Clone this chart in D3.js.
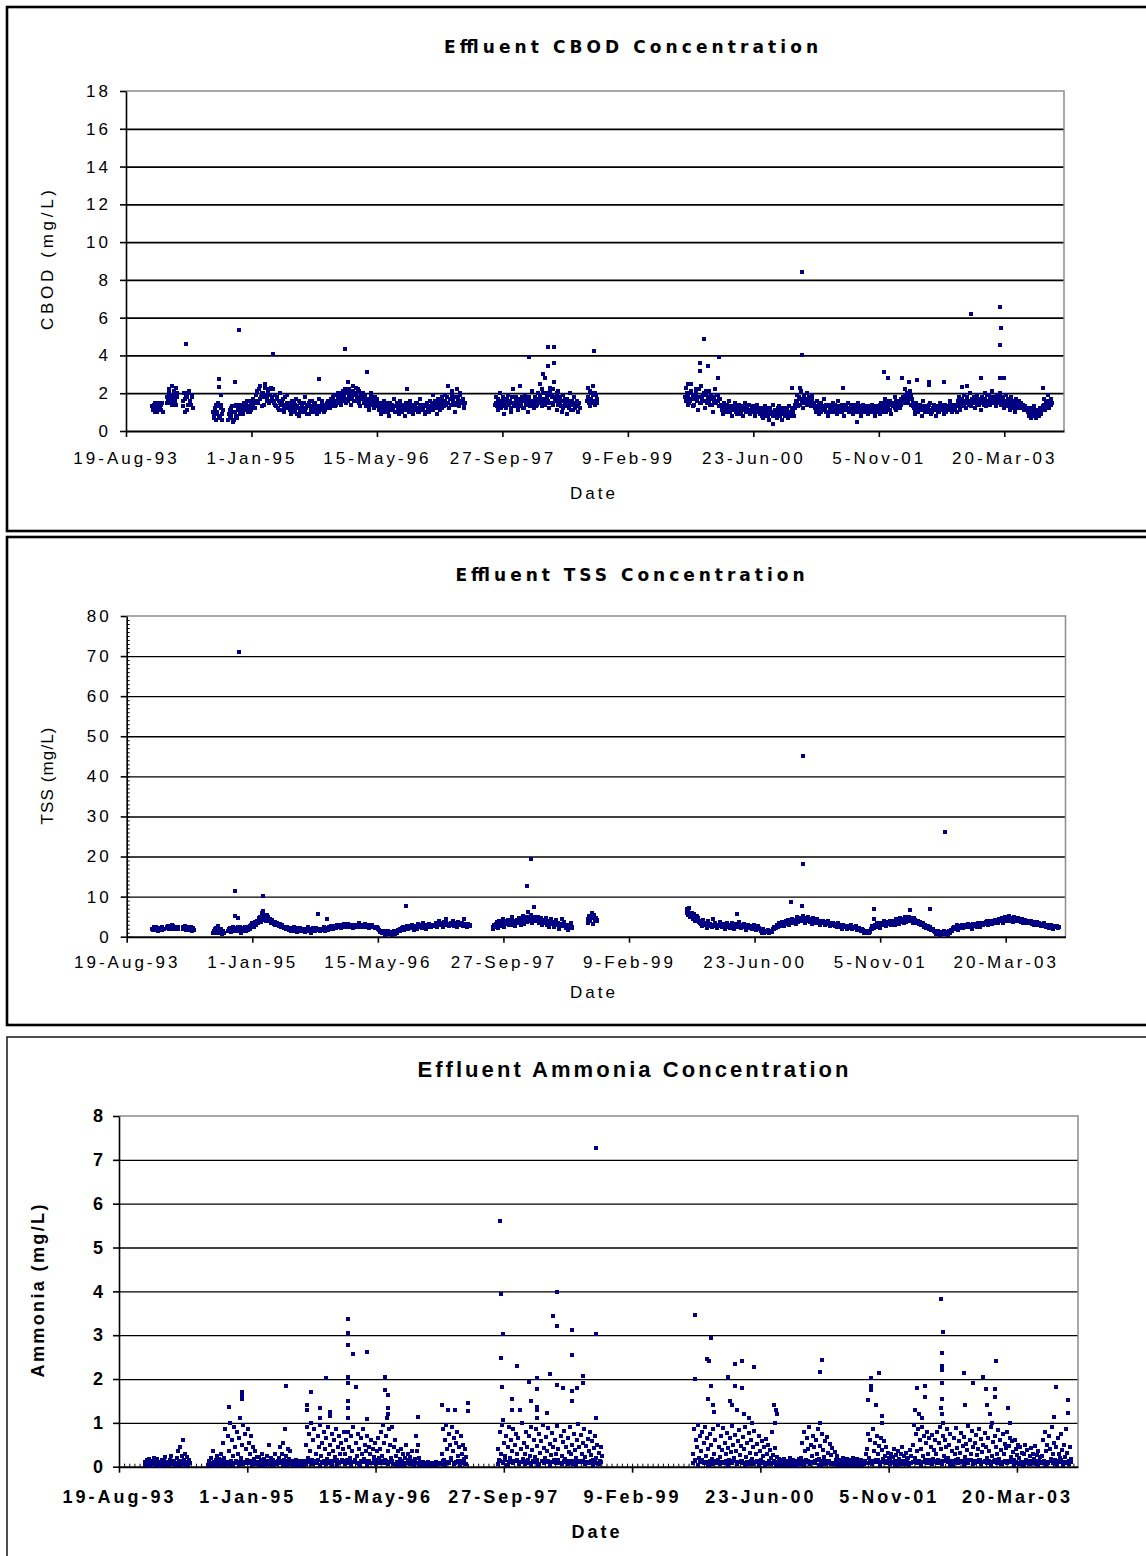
<!DOCTYPE html>
<html>
<head>
<meta charset="utf-8">
<script src="https://cdn.jsdelivr.net/npm/d3@7"></script>
<style>
  body { margin: 0; background: #fff; }
</style>
</head>
<body>
<svg id="chart" width="1146" height="1556"></svg>
<script>
// ---- data ----
// each run is a block of regular samples, first date in *Starts, then one value every STEP days.
// the "B" runs are the readings taken in between (offset by two days).

const cbodStep = 5;
const cbodStarts = ["1993-12-01","1994-01-29","1994-04-03","1994-08-01","1994-10-01","1997-08-29","1998-08-31","1999-09-25"];
const cbodRuns = [
  [1.3,1.1,1.5,1.2,1.0,1.4,1.3,1.1,1.5],
  [1.8,1.6,2.2,1.5,2.4,1.7,1.9,1.4,2.0],
  [1.6,2.0,1.0,1.8,1.4,2.1,1.5,1.9,1.2],
  [1.0,0.7,1.4,0.9,1.5,0.8,1.2,0.6,1.1],
  [0.6,1.1,0.8,1.3,0.5,1.0,1.4,0.7,1.2,0.9,
   1.0,1.4,0.9,1.3,1.1,1.6,1.2,1.0,1.5,1.3,1.7,1.2,
   1.6,2.1,1.5,2.4,1.8,2.0,1.4,2.5,1.9,1.7,2.2,1.6,2.3,1.8,1.5,
   1.9,1.3,1.7,1.1,2.0,1.4,1.6,1.0,1.8,1.2,1.5,1.3,
   1.4,0.9,1.6,1.2,1.0,1.7,1.3,0.8,1.5,1.1,1.4,1.0,1.8,1.2,0.9,1.5,1.3,1.1,1.6,1.0,1.4,1.2,0.9,1.7,1.3,1.1,1.5,1.0,1.4,1.2,1.6,1.3,
   1.2,1.7,1.4,1.9,1.3,1.6,2.0,1.5,1.8,1.4,2.1,1.7,
   2.2,1.5,2.6,1.8,2.0,1.4,2.4,1.9,1.6,2.3,1.7,2.1,1.3,2.0,1.8,1.5,
   1.9,1.3,1.7,1.1,1.6,2.0,1.4,1.2,1.8,1.5,1.3,
   1.1,1.5,0.9,1.3,1.6,1.0,1.4,1.2,0.8,1.5,1.3,1.1,1.7,1.0,1.4,1.2,0.9,1.6,1.3,1.1,1.4,0.8,1.5,1.2,1.0,1.6,1.3,0.9,1.4,1.1,1.5,1.2,1.0,1.7,1.3,1.1,1.4,0.9,1.5,1.2,
   1.0,1.6,1.3,1.9,1.2,1.5,0.9,1.7,1.4,1.1,1.8,1.4,
   1.3,1.9,1.5,2.4,1.2,1.7,2.1,1.4,1.8,1.0,2.2,1.6,1.3,2.0,1.5,1.7,1.2],
  [1.4,1.8,1.1,1.6,2.0,1.3,1.5,0.9,1.7,1.2,1.9,1.4,1.6,1.0,2.2,1.5,1.3,1.8,1.1,1.6,2.4,1.4,1.7,1.2,1.9,1.5,1.0,1.8,1.3,2.1,1.6,1.2,1.7,1.4,2.0,
   1.7,2.5,1.3,2.0,1.6,2.8,1.5,1.9,1.2,2.3,1.8,1.4,2.6,1.7,1.1,2.1,1.6,
   1.5,1.0,1.9,1.3,1.7,0.9,1.6,1.2,2.0,1.4,1.1,1.8,1.3,1.6,1.0,1.5],
  [1.6,2.3,1.3,2.0,1.5,2.4,1.4,1.9,1.7],
  [1.8,2.3,1.4,2.0,1.6,2.5,1.3,1.9,1.7,2.2,1.1,1.8,1.5,2.4,1.6,2.0,1.2,1.9,1.7,2.1,1.4,1.8,1.0,1.6,2.2,1.5,1.9,1.3,1.7,
   1.3,0.9,1.5,1.1,1.4,1.0,1.6,1.2,0.8,1.3,1.1,1.5,0.9,1.2,1.4,1.0,1.3,0.8,1.2,1.5,1.0,1.1,1.4,0.9,1.3,1.0,1.2,0.8,1.4,1.1,1.0,
   0.9,1.2,0.7,1.1,1.3,0.8,1.0,0.6,1.2,0.9,1.4,0.8,1.1,0.7,1.0,1.3,0.9,0.6,1.2,1.0,0.8,1.1,0.7,1.3,0.9,1.0,1.2,0.8,
   1.4,1.9,1.3,1.7,2.1,1.5,1.2,1.8,1.6,2.0,1.4,1.7,1.3,1.9,1.5,
   1.4,1.0,1.6,1.2,0.9,1.5,1.3,1.1,1.7,1.0,1.3,0.8,1.4,1.2,1.0,1.5,1.1,1.3,0.9,1.6,1.2,1.0,1.4,1.1,0.8,1.3,1.2,1.5,1.0,1.1,1.4,0.9,1.2,1.3,1.0,1.5,1.1,0.8,1.2,1.4,1.0,1.1,1.3,0.9,1.2,1.0,1.4,1.1,0.8,1.3,1.0,
   1.2,0.9,1.5,1.1,1.3,1.7,1.0,1.4,1.2,1.6,0.9,1.5,1.3,1.8,1.1,1.4,1.6,1.2,1.7,1.5,
   1.8,2.2,1.5,2.0,1.6,2.1,1.4,1.7,
   1.3,0.9,1.5,1.1,1.0,1.4,1.2,0.8,1.6,1.1,1.3,1.0,1.2,1.5,0.9,1.1,1.4,1.2,0.8,1.3,1.0,1.5,1.1,1.2,0.9,1.4,1.0,1.3,1.1,1.6,1.2,1.0,1.4,1.1,1.3,
   1.4,1.8,1.1,1.6,1.3,1.9,1.5,1.2,1.7,1.4,2.0,1.3,1.6,1.8,1.2,1.5,1.9,1.4,1.7,1.1,1.8,1.5,2.0,1.3,1.6,1.9,1.4,1.7,2.1,1.5,1.8,1.3,1.9,1.6,2.0,1.4,
   1.7,1.2,1.5,1.9,1.3,1.6,1.1,1.8,1.4,1.5,1.0,1.7,1.3,1.6,1.2,1.5,1.4,1.1,1.3,1.2,
   1.1,0.8,1.2,0.7,1.0,1.3,0.9,0.7,1.1,0.8,1.2,0.9,
   1.3,1.7,1.1,1.5,1.9,1.2,1.6,1.4]
];
const cbodStartsB = ["1993-12-03","1994-01-31","1994-04-05","1994-08-03","1994-10-03","1997-08-31","1998-09-02","1999-09-27"];
const cbodRunsB = [
  [1.2,1.4,1.0,1.3,1.5,1.1,1.2,1.4,1.0],
  [1.5,2.0,1.7,1.9,1.4,2.1,1.6,2.3,1.8],
  [1.3,1.7,1.9,1.1,2.0,1.6,1.4,1.8],
  [0.8,1.2,0.6,1.0,1.3,0.7,1.4,0.9],
  [0.9,0.7,1.2,1.0,0.6,1.3,0.8,1.1,1.4,1.0,
   1.2,0.9,1.5,1.1,1.4,1.0,1.3,1.6,1.1,1.4,1.5,1.6,
   1.9,1.5,2.2,1.7,1.3,2.0,1.8,2.3,1.6,2.1,1.5,1.9,1.7,2.2,1.6,
   1.4,1.8,1.2,1.6,1.5,1.1,1.7,1.3,1.4,1.9,1.2,1.5,
   1.1,1.3,1.0,1.5,1.4,0.9,1.2,1.6,1.0,1.3,1.2,1.5,1.1,1.4,1.3,0.9,1.6,1.2,1.0,1.4,1.5,1.1,1.3,1.0,1.2,1.6,1.4,1.2,1.1,1.5,1.3,1.4,
   1.5,1.3,1.8,1.6,1.4,1.9,1.7,1.5,2.0,1.6,1.8,1.9,
   1.7,2.0,1.6,2.2,1.9,1.7,2.1,1.6,2.0,1.8,2.2,1.5,1.9,1.7,2.0,1.6,
   1.4,1.7,1.5,1.3,1.8,1.4,1.6,1.5,1.3,1.7,1.4,
   1.3,1.0,1.2,1.4,1.1,1.5,1.3,1.0,1.2,1.1,1.4,1.2,1.0,1.3,1.5,1.1,1.2,1.4,1.0,1.3,1.2,1.5,1.1,1.3,1.4,1.0,1.2,1.1,1.3,1.5,1.2,1.0,1.4,1.1,1.3,1.2,1.0,1.4,1.3,1.1,
   1.3,1.2,1.5,1.1,1.6,1.4,1.2,1.5,1.3,1.6,1.2,1.5,
   1.6,1.4,1.8,1.5,1.7,1.4,1.9,1.6,1.5,1.8,1.4,1.7,1.9,1.5,1.6,1.4,1.5],
  [1.5,1.3,1.7,1.4,1.2,1.6,1.8,1.3,1.5,1.7,1.4,1.6,1.2,1.8,1.5,1.3,1.6,1.4,1.7,1.3,1.5,1.8,1.2,1.6,1.4,1.7,1.5,1.3,1.6,1.5,1.4,1.8,1.3,1.6,1.5,
   1.9,1.5,2.2,1.7,1.4,2.0,1.8,1.6,2.1,1.5,1.9,2.2,1.6,1.8,2.0,1.4,1.8,
   1.3,1.6,1.2,1.5,1.4,1.7,1.3,1.5,1.1,1.6,1.4,1.2,1.5,1.3,1.4,1.2],
  [1.8,1.5,2.1,1.7,1.9,1.6,2.0,1.5],
  [1.6,2.0,1.8,1.5,2.1,1.7,1.9,1.4,2.0,1.6,1.8,2.2,1.5,1.7,1.9,1.6,2.1,1.5,1.8,1.6,1.9,1.4,1.7,1.8,1.5,1.9,1.6,1.7,1.4,
   1.1,1.3,1.0,1.2,1.4,1.1,1.0,1.3,1.2,1.1,1.4,1.0,1.2,1.3,1.1,0.9,1.2,1.1,1.3,1.0,1.2,1.4,1.1,1.0,1.2,1.1,1.3,1.0,1.1,1.2,1.1,
   1.0,0.8,1.1,0.9,1.0,1.2,0.8,1.1,0.9,1.0,0.8,1.1,1.0,0.9,1.2,0.8,1.0,1.1,0.9,0.8,1.0,1.2,0.9,1.0,0.8,1.1,1.0,1.2,
   1.6,1.5,1.8,1.4,1.7,1.6,1.9,1.5,1.7,1.4,1.8,1.6,1.5,1.7,1.4,
   1.2,1.3,1.1,1.4,1.2,1.0,1.3,1.2,1.1,1.4,1.3,1.0,1.2,1.1,1.3,1.2,1.4,1.0,1.1,1.3,1.2,1.1,1.0,1.3,1.2,1.4,1.1,1.0,1.2,1.3,1.1,1.2,1.0,1.4,1.2,1.1,1.3,1.0,1.2,1.1,1.3,1.2,1.0,1.1,1.3,1.2,1.1,1.0,1.2,1.1,1.2,
   1.1,1.4,1.2,1.3,1.0,1.5,1.2,1.3,1.6,1.1,1.4,1.3,1.5,1.2,1.6,1.4,1.3,1.5,1.4,1.6,
   1.6,1.9,1.7,1.5,1.8,1.7,1.9,1.5,
   1.2,1.1,1.3,1.0,1.2,1.4,1.1,1.3,1.2,1.0,1.3,1.2,1.4,1.1,1.0,1.2,1.3,1.1,1.2,1.0,1.3,1.2,1.4,1.1,1.2,1.0,1.3,1.2,1.1,1.4,1.2,1.1,1.3,1.2,1.0,
   1.6,1.5,1.3,1.7,1.5,1.4,1.6,1.8,1.5,1.6,1.4,1.7,1.5,1.6,1.8,1.4,1.7,1.6,1.5,1.8,1.6,1.4,1.7,1.9,1.5,1.6,1.7,1.5,1.8,1.6,1.7,1.9,1.5,1.7,1.6,1.8,
   1.5,1.4,1.6,1.3,1.7,1.5,1.4,1.3,1.6,1.2,1.5,1.4,1.2,1.5,1.3,1.4,1.2,1.3,1.1,1.2,
   1.0,0.9,1.1,1.0,0.8,1.1,1.0,0.9,1.0,1.1,0.9,1.1,
   1.2,1.4,1.6,1.3,1.5,1.4,1.7,1.5]
];
const cbodOutliers = [
  ["1994-04-14",4.6],["1994-08-25",2.75],["1994-08-25",2.35],["1994-08-31",1.9],["1994-10-27",2.6],["1994-11-14",5.35],
  ["1995-03-29",4.1],["1995-09-27",2.75],["1996-01-09",4.35],["1996-04-04",3.1],["1996-09-11",2.2],
  ["1998-01-11",3.9],["1998-03-07",3.03],["1998-03-28",4.45],["1998-03-28",3.45],["1998-04-21",4.45],["1998-04-21",3.58],["1998-09-29",4.25],
  ["1999-10-07",2.5],["1999-11-24",3.58],["1999-11-24",3.2],["1999-12-10",4.87],["1999-12-27",3.45],["2000-02-05",2.8],["2000-02-09",3.9],
  ["2000-09-11",0.37],["2000-11-23",2.3],["2000-12-27",2.3],["2001-01-02",8.43],["2001-01-02",4.05],["2001-06-17",2.3],["2001-08-10",0.46],
  ["2001-11-24",3.14],["2001-12-10",2.82],["2002-02-05",2.82],["2002-03-07",2.6],["2002-04-08",2.7],["2002-05-25",2.57],["2002-05-25",2.45],
  ["2002-07-21",2.6],["2002-10-02",2.35],["2002-10-22",2.4],["2002-11-07",6.17],["2002-12-18",2.82],["2003-03-01",6.58],["2003-03-01",4.55],
  ["2003-03-01",2.82],["2003-03-08",5.47],["2003-03-20",2.82],["2003-08-23",2.3]
];

const tssStep = 5;
const tssStarts = ["1993-11-27","1994-01-25","1994-03-31","1994-07-29","1994-09-28","1997-08-16","1998-08-29","1999-09-26"];
const tssRuns = [
  [2.0,1.6,2.3,1.8,2.1,1.5,2.2,1.9,1.7,2.0],
  [2.2,2.6,1.9,2.4,2.8,2.0,2.5,2.2,1.8,2.4],
  [2.3,1.9,2.6,2.0,1.6,2.4,1.8,1.5,2.1],
  [0.8,1.5,2.2,1.2,2.6,1.0,1.8,0.6,1.3],
  [1.5,2.2,1.2,1.9,2.5,1.6,2.0,1.3,2.3,1.8,1.0,2.1,1.7,2.4,1.5,2.0,1.9,2.6,
   2.8,3.3,2.5,3.6,3.0,3.9,
   4.2,5.0,3.6,5.8,4.5,4.9,3.8,5.4,4.3,
   4.4,3.5,4.0,3.2,3.7,2.9,3.4,2.6,3.1,2.4,2.8,2.1,2.5,1.9,2.3,
   1.6,2.1,1.3,1.8,2.4,1.5,1.9,1.1,1.7,2.2,1.4,2.0,1.6,1.2,1.9,2.3,1.5,1.8,1.0,2.1,1.7,1.4,2.2,1.6,1.9,1.3,2.0,1.8,2.4,1.5,2.1,1.7,2.3,1.9,2.6,2.0,2.4,
   2.7,2.2,3.0,2.5,2.9,2.1,2.8,3.2,2.4,2.6,3.1,2.3,2.7,2.9,2.2,3.0,2.5,2.8,2.4,3.3,2.6,2.3,2.9,2.7,3.1,2.4,2.8,2.2,2.6,3.0,2.3,2.5,2.1,2.4,1.9,
   1.6,1.1,1.4,0.8,1.3,0.5,1.0,1.5,0.7,1.2,0.4,0.9,1.4,0.6,1.1,1.7,1.3,1.8,
   1.9,2.4,1.6,2.2,2.7,1.8,2.5,2.1,2.9,2.3,1.7,2.6,2.0,3.1,2.4,2.8,2.2,3.4,2.5,2.0,2.9,2.6,3.2,2.3,2.7,3.0,
   2.7,3.4,2.5,3.1,3.8,2.8,3.3,2.4,3.6,4.3,2.9,3.2,2.6,3.5,3.0,4.0,2.7,3.3,2.5,3.7,3.1,2.8,3.4,2.6,4.4,3.0,2.5,3.2,2.7],
  [1.8,3.0,2.4,3.6,2.2,4.0,2.7,3.3,4.5,2.5,3.8,3.1,4.2,2.9,3.5,4.8,3.0,3.9,2.6,4.1,3.4,4.6,2.8,3.7,5.2,3.2,4.4,3.6,6.2,4.0,5.5,3.4,
   4.8,7.3,4.3,3.8,5.0,3.5,4.6,2.9,4.0,3.3,4.7,3.0,3.8,2.5,4.3,3.1,3.6,2.4,4.1,2.8,3.5,1.9,3.2,4.5,2.6,3.7,2.2,3.0,1.6,2.8,3.4,2.1],
  [3.5,5.2,4.1,6.0,3.2,5.5,4.4,3.8],
  [6.8,5.5,7.2,4.9,6.0,4.4,5.6,3.9,5.1,4.6,3.7,
   3.5,2.6,4.1,2.9,3.3,2.2,3.8,2.7,3.1,2.4,4.4,2.9,3.4,2.1,3.0,2.6,3.7,2.3,3.2,2.8,1.9,3.5,2.5,3.0,2.2,3.3,2.7,1.8,3.1,2.4,2.9,3.6,2.1,2.8,2.5,3.2,1.7,2.6,3.0,2.2,2.7,1.9,2.4,2.9,1.6,2.3,2.6,2.0,
   1.5,1.0,1.8,0.8,1.3,1.1,1.6,0.9,1.4,1.2,
   1.8,2.5,2.1,2.9,2.4,3.3,2.7,3.6,3.0,2.6,3.9,3.2,4.2,2.9,3.7,4.5,3.4,4.0,3.1,4.8,3.6,4.3,
   4.6,3.8,5.2,3.4,4.4,3.9,5.0,3.6,4.2,3.1,4.7,3.8,3.3,4.3,3.5,2.9,4.0,3.4,3.7,2.8,3.5,3.1,3.9,2.7,3.3,3.0,
   3.2,2.6,2.9,2.3,3.4,2.5,2.8,2.0,3.0,2.4,2.7,1.9,2.6,2.2,2.9,1.8,2.4,2.1,2.6,1.6,2.2,1.9,1.5,2.0,
   1.2,0.8,1.5,0.9,1.3,1.1,
   1.9,2.6,2.2,3.0,2.4,3.3,2.7,2.1,3.5,2.9,3.8,3.1,2.6,3.6,3.2,4.0,2.8,3.4,3.9,3.0,4.3,3.5,3.1,4.6,3.7,4.1,3.3,4.8,3.6,4.2,5.0,3.8,4.4,3.5,4.7,
   4.2,3.5,4.0,3.1,3.7,2.8,3.4,2.5,3.0,2.2,2.7,1.9,2.4,1.6,2.0,1.3,
   1.1,0.6,1.4,0.8,0.4,1.2,0.9,1.5,0.7,1.0,0.5,1.3,0.9,1.6,
   1.8,2.4,2.0,2.8,1.7,2.5,2.2,3.0,2.1,2.6,2.9,2.3,3.1,2.4,2.7,2.0,3.2,2.6,2.9,2.3,3.4,2.8,2.5,3.1,
   2.9,3.5,3.1,3.8,2.8,3.6,4.0,3.2,3.9,3.4,4.2,3.7,3.3,4.4,3.8,4.6,3.5,4.1,4.8,3.9,4.3,5.1,4.0,4.5,3.7,4.9,4.2,3.8,4.6,4.0,3.6,4.3,3.5,4.1,3.3,3.9,3.6,
   3.4,3.8,3.1,3.5,2.9,3.3,3.6,2.8,3.2,2.6,3.0,2.7,3.3,2.4,2.9,2.6,2.2,2.8,2.5,2.0,2.7,2.3,2.6,2.1]
];
const tssStartsB = ["1993-11-29","1994-01-27","1994-04-02","1994-07-31","1994-09-30","1997-08-18","1998-08-31","1999-09-28"];
const tssRunsB = [
  [1.8,2.1,1.7,2.4,1.9,2.2,1.6,2.0,2.3,1.8],
  [2.4,2.1,2.7,2.3,2.0,2.6,2.3,2.1,2.5,2.0],
  [2.0,2.4,1.7,2.2,1.9,2.1,2.5,1.9,1.7],
  [1.2,1.9,1.0,1.6,2.0,1.4,1.1,1.5,0.9],
  [1.9,1.6,2.1,1.8,1.4,2.2,1.7,2.0,1.6,2.3,1.9,1.5,2.2,1.8,2.1,1.7,2.3,2.0,
   2.5,3.0,2.9,3.2,3.5,3.4,
   4.6,4.0,5.2,4.4,5.5,4.1,4.7,5.0,4.0,
   3.9,4.1,3.4,3.6,3.0,3.3,2.8,3.0,2.7,2.6,2.4,2.3,2.2,2.1,2.0,
   1.9,1.7,2.0,1.5,1.8,1.6,2.1,1.8,1.5,1.9,1.7,1.6,2.0,1.8,1.5,1.7,1.9,1.6,1.8,1.5,2.0,1.7,1.8,1.6,1.9,1.7,1.8,2.0,1.7,2.1,1.8,2.0,2.2,1.9,2.1,2.3,2.2,
   2.5,2.8,2.6,2.4,2.7,2.9,2.5,2.7,2.8,2.5,2.6,2.9,2.5,2.6,2.8,2.7,2.4,2.6,2.9,2.7,2.5,2.8,2.6,2.5,2.7,2.9,2.6,2.5,2.8,2.6,2.4,2.3,2.5,2.1,2.2,
   1.4,1.2,1.0,1.3,0.9,1.1,0.8,1.2,1.0,0.8,1.1,0.7,1.0,1.2,0.9,1.3,1.5,1.6,
   2.1,2.0,2.3,2.5,2.1,2.3,2.4,2.6,2.2,2.5,2.4,2.3,2.7,2.5,2.6,2.4,2.8,2.6,2.4,2.7,2.8,2.5,2.9,2.7,2.8,2.9,
   3.0,2.9,3.2,2.8,3.1,3.3,3.0,2.9,3.2,3.4,3.0,3.1,2.9,3.3,3.2,3.1,2.9,3.0,3.2,3.1,2.9,3.0,3.3,2.9,3.1,3.2,2.8,3.0,2.9],
  [2.5,2.7,3.1,3.0,3.3,2.9,3.5,3.2,3.4,3.7,3.3,3.6,3.4,3.8,3.5,3.7,4.0,3.6,3.8,3.5,3.9,4.1,3.7,4.2,3.9,4.5,4.0,4.8,4.3,5.0,4.4,4.6,
   4.2,4.9,4.0,4.4,4.1,4.3,3.9,4.2,3.8,4.0,3.6,3.9,3.5,3.8,3.4,3.6,3.3,3.5,3.1,3.4,3.0,3.2,2.9,3.1,2.7,3.0,2.6,2.8,2.4,2.6,2.5,2.3],
  [4.5,4.0,4.8,4.6,5.0,4.2,4.7,4.1],
  [6.0,6.4,5.2,5.8,5.0,5.3,4.8,4.6,4.3,4.1,3.9,
   3.2,3.4,3.0,3.1,2.8,3.0,2.9,3.2,2.7,3.0,2.8,3.1,2.6,2.9,2.7,3.0,2.8,2.5,2.9,2.7,2.6,2.8,3.0,2.6,2.7,2.5,2.9,2.6,2.8,2.5,2.7,2.4,2.6,2.8,2.5,2.7,2.4,2.6,2.3,2.5,2.4,2.2,2.5,2.3,2.1,2.4,2.2,2.0,
   1.7,1.3,1.5,1.2,1.1,1.4,1.0,1.3,1.2,1.5,
   2.0,2.2,2.4,2.6,2.8,2.9,3.0,3.2,3.3,3.4,3.5,3.6,3.7,3.6,3.9,4.0,3.8,4.1,4.0,4.2,4.1,4.3,
   4.2,4.4,4.1,4.6,4.3,4.5,4.2,4.4,4.0,4.3,3.9,4.2,3.8,4.0,3.7,3.9,3.6,3.8,3.5,3.7,3.4,3.6,3.3,3.5,3.2,3.3,
   3.0,2.9,3.1,2.8,2.9,2.7,2.8,2.6,2.7,2.5,2.6,2.4,2.5,2.3,2.4,2.2,2.3,2.1,2.2,2.0,2.1,1.9,1.8,1.7,
   1.0,1.3,1.1,1.2,1.0,1.4,
   2.0,2.3,2.4,2.6,2.7,2.8,3.0,2.9,3.1,3.2,3.3,3.4,3.3,3.5,3.6,3.7,3.5,3.8,3.7,3.9,4.0,3.8,4.1,4.0,4.2,4.3,4.1,4.4,4.2,4.5,4.3,4.6,4.2,4.4,4.1,
   3.9,3.8,3.6,3.5,3.3,3.2,3.0,2.9,2.7,2.6,2.4,2.2,2.0,1.8,1.6,1.4,
   1.0,1.2,0.8,1.0,0.7,0.9,1.1,0.8,1.2,0.9,1.1,0.8,1.3,1.4,
   2.1,2.2,2.4,2.3,2.5,2.4,2.6,2.5,2.7,2.6,2.8,2.7,2.9,2.8,2.7,2.9,3.0,2.8,3.1,2.9,3.2,3.0,3.1,3.3,
   3.3,3.4,3.6,3.5,3.7,3.8,3.6,3.9,3.8,4.0,4.1,3.9,4.2,4.1,4.3,4.2,4.4,4.3,4.5,4.4,4.6,4.5,4.4,4.6,4.3,4.5,4.2,4.4,4.1,4.3,4.0,4.2,3.9,4.1,3.8,3.9,3.7,
   3.6,3.5,3.4,3.6,3.3,3.4,3.2,3.3,3.1,3.2,3.0,3.1,2.9,3.0,2.8,2.9,2.7,2.8,2.6,2.7,2.5,2.6,2.4,2.5]
];
const tssOutliers = [
  ["1994-10-24",11.5],["1994-10-24",5.2],["1994-11-06",4.7],["1994-11-08",71.1],["1995-02-11",10.1],["1995-02-11",6.5],
  ["1995-09-21",5.6],["1995-10-24",4.4],["1996-09-06",7.65],["1997-12-28",12.7],["1998-01-13",19.4],["2000-04-16",5.6],
  ["2000-11-17",8.6],["2000-12-27",7.65],["2001-01-02",45.1],["2001-01-02",18.1],["2001-10-11",6.9],["2001-10-11",4.4],
  ["2002-03-03",6.7],["2002-05-21",6.9],["2002-07-23",26.0]
];

const ammoniaStep = 4;
const ammoniaStarts = ["1993-11-28","1994-08-01","1995-02-12","1997-09-04","1999-10-04"];
const ammoniaRuns = [
  [0.10,0.05,0.15,0.08,0.18,0.12,0.04,0.14,0.09,0.20,0.06,0.13,0.17,0.05,0.11,0.02,0.08,0.16,0.04,0.12,0.22,0.07,0.10,0.03,0.15,0.25,0.06,0.12,0.09,0.05,
   0.08,0.20,0.35,0.12,0.45,0.05,0.25,0.60,0.15,0.30,0.10,0.22,0.04,0.15,0.08],
  [0.05,0.12,0.03,0.20,0.08,0.35,0.10,0.02,0.15,0.25,0.06,0.18,0.04,0.30,
   0.15,0.55,0.20,0.85,0.10,0.70,0.35,1.00,0.05,0.60,0.25,0.90,0.45,0.12,0.80,0.30,0.65,1.10,0.20,0.50,0.95,0.08,0.75,0.40,0.15,0.85,0.55,0.28,0.70,0.10,0.45,0.18,0.35,0.06,0.22],
  [0.10,0.22,0.05,0.15,0.28,0.08,0.18,0.03,0.12,0.25,0.06,0.50,0.14,0.20,0.04,0.16,0.09,0.30,0.07,0.13,
   0.20,0.45,0.10,0.30,0.55,0.15,0.86,0.25,0.05,0.40,0.18,0.35,0.08,
   0.06,0.12,0.03,0.10,0.15,0.05,0.09,0.02,0.13,0.07,0.11,0.04,0.14,0.08,
   0.50,0.90,0.20,0.75,0.35,1.00,0.15,0.60,0.85,0.30,0.10,0.70,0.45,0.95,0.25,0.55,0.08,0.80,0.40,0.65,0.18,0.90,0.30,0.50,0.12,0.75,0.35,0.60,0.22,0.85,0.05,0.45,0.70,0.28,0.55,0.15,0.40,0.80,
   0.30,0.60,0.15,0.80,0.45,0.20,0.70,0.35,0.90,0.10,0.55,0.25,0.75,0.40,0.05,0.65,0.30,0.85,0.18,0.50,0.35,0.70,0.12,0.45,0.28,0.60,0.08,0.40,0.22,0.55,0.15,0.35,0.65,0.20,
   0.40,0.80,0.25,0.95,0.55,0.15,0.70,1.10,0.35,0.85,0.50,0.20,0.90,0.45,0.60,
   0.25,0.10,0.35,0.05,0.18,0.40,0.12,0.28,0.03,0.20,0.50,0.08,0.30,0.15,0.22,0.06,0.35,0.12,0.04,0.18,
   0.70,0.35,0.50,0.20,0.10,
   0.08,0.05,0.10,0.06,0.09,0.04,0.07,0.10,0.05,0.08,0.06,0.09,0.04,0.07,0.10,0.05,0.08,0.06,0.09,0.07,
   0.30,0.85,0.15,0.60,0.95,0.40,0.10,0.75,0.50,0.20,0.90,0.35,0.65,0.08,0.55,0.80,0.25,0.45,0.12,0.70,0.30,0.50,0.18,0.40,0.22],
  [0.40,0.15,0.80,0.30,0.95,0.10,0.55,0.25,0.70,0.05,0.45,0.90,0.20,0.60,0.35,0.85,0.12,0.50,0.75,0.28,
   0.65,0.08,0.40,1.00,0.18,0.55,0.30,0.80,0.45,0.15,0.70,0.25,0.90,0.38,0.10,0.60,0.22,0.85,0.48,0.05,
   0.75,0.32,0.58,0.14,0.95,0.42,0.20,0.68,0.35,0.88,0.10,0.52,0.26,0.78,0.44,0.16,0.62,0.30,0.92,0.40,
   0.08,0.70,0.24,0.56,0.82,0.18,0.46,0.12,0.66,0.34,0.90,0.28,0.50,0.06,0.74,0.38,0.20,0.60,0.98,0.44,
   0.14,0.72,0.30,0.54,0.86,0.22,0.48,0.10,0.64,0.36,0.80,0.26,0.58,0.16,0.42,0.70,0.20,0.50,0.32,0.12,0.45,0.25],
  [0.30,0.85,0.15,0.60,0.45,0.95,0.20,0.70,0.35,0.80,0.10,0.55,0.90,0.25,0.65,0.40,0.05,0.75,0.50,0.18,
   0.85,0.30,0.62,0.12,0.95,0.45,0.22,0.70,0.38,0.88,0.08,0.55,0.28,0.78,0.42,0.15,0.66,0.34,0.92,0.50,
   0.20,0.72,0.36,0.10,0.58,0.84,0.26,0.48,0.14,0.68,0.40,0.90,0.22,0.54,0.06,0.76,0.32,0.60,0.18,0.46,
   0.82,0.28,0.52,0.10,0.70,0.36,0.16,0.58,0.24,0.44,0.08,0.64,0.30,0.50,0.12,0.38,0.20,0.80,0.26,0.14,
   0.42,0.10,0.22,0.06,0.18,
   0.08,0.15,0.04,0.12,0.18,0.06,0.10,0.03,0.14,0.09,0.20,0.05,0.11,0.16,0.07,0.13,0.02,0.10,0.17,0.06,
   0.20,0.55,0.10,0.80,0.35,0.15,0.65,0.40,0.90,0.08,0.50,0.25,0.70,0.45,0.12,0.60,0.30,0.85,0.18,0.48,0.05,0.75,0.38,0.22,0.58,0.14,0.68,0.32,0.10,0.52,0.26,0.42,0.06,0.34,0.16,0.24,
   0.10,0.05,0.16,0.08,0.12,0.20,0.04,0.14,0.09,0.18,0.06,0.11,0.03,0.15,0.08,0.19,0.05,0.12,0.10,0.17,0.07,0.13,0.04,0.16,0.09,0.11,0.06,0.14,0.30,
   0.40,0.75,0.20,0.60,0.10,0.85,0.35,0.55,0.15,0.70,0.28,0.48,0.08,0.65,0.38,0.18,0.58,0.25,0.44,0.12,0.32,0.20,
   0.15,0.30,0.08,0.22,0.40,0.12,0.26,0.05,0.35,0.18,0.10,0.28,0.45,0.14,0.24,0.06,0.32,0.16,0.20,0.09,0.38,0.25,
   0.50,0.95,0.20,0.75,0.35,0.85,0.10,0.60,0.40,0.90,0.25,0.70,0.15,0.55,0.80,0.30,0.65,0.08,0.45,0.72,0.18,0.38,0.60,
   0.30,0.80,0.15,0.55,0.90,0.40,0.10,0.70,0.25,0.60,0.45,0.85,0.20,0.50,0.75,0.35,0.05,0.65,0.28,0.88,
   0.42,0.18,0.58,0.32,0.78,0.12,0.48,0.68,0.22,0.52,0.38,0.92,0.15,0.62,0.30,0.82,0.45,0.08,0.55,0.72,
   0.26,0.40,0.86,0.16,0.64,0.34,0.50,0.10,0.76,0.44,0.20,0.66,0.36,0.90,0.24,0.56,0.14,0.70,0.46,0.30,
   0.84,0.18,0.60,0.38,0.06,0.74,0.28,0.52,0.42,0.80,0.12,0.48,0.66,0.22,0.58,0.34,0.16,0.62,0.40,0.26,0.50,
   0.20,0.45,0.10,0.32,0.05,0.28,0.50,0.15,0.38,0.08,0.24,0.42,0.12,0.30,0.18,0.48,0.06,0.26,0.36,0.14,0.22,0.10,
   0.25,0.60,0.12,0.80,0.35,0.50,0.08,0.70,0.40,0.18,0.90,0.30,0.55,0.15,0.45,0.05,0.65,0.28,0.20,0.75,0.38,0.10,0.50,0.22,0.85,0.32,0.12,0.44,0.18]
];
// low readings between the samples above (the dark band along zero)
const ammoniaBaseStep = 8;
const ammoniaBaseStarts = ["1993-11-30","1994-08-03","1995-02-14","1997-09-06","1999-10-06"];
const ammoniaBaseRuns = [
  [0.04,0.10,0.02,0.07,0.12,0.05,0.09,0.03,0.11,0.06,0.08,0.04,0.13,0.07,0.10,0.03,0.09,0.05,0.12,0.06,0.04,0.08],
  [0.03,0.08,0.05,0.11,0.04,0.09,0.06,0.12,0.03,0.10,0.07,0.13,0.05,0.09,0.11,0.04,0.14,0.06,0.10,0.08,0.12,0.05,0.09,0.07],
  [0.05,0.10,0.03,0.08,0.12,0.06,0.09,0.04,0.11,0.07,
   0.08,0.13,0.05,0.10,0.14,0.06,0.09,
   0.04,0.07,0.03,0.06,0.08,0.04,0.06,
   0.10,0.14,0.06,0.12,0.08,0.15,0.05,0.11,0.13,0.07,0.14,0.09,0.05,0.12,0.15,0.08,0.10,0.13,0.07,
   0.09,0.13,0.05,0.11,0.15,0.08,0.06,0.14,0.10,0.12,0.04,0.13,0.09,0.15,0.07,0.11,0.08,
   0.12,0.08,0.14,0.06,0.10,0.13,0.07,
   0.05,0.10,0.07,0.12,0.04,0.09,0.13,0.06,0.11,0.08,
   0.09,0.05,
   0.05,0.07,0.04,0.06,0.05,0.08,0.04,0.07,0.05,0.06,
   0.09,0.14,0.05,0.11,0.08,0.15,0.06,0.10,0.13,0.04,0.09,0.12,0.07],
  [0.07,0.12,0.09,0.15,0.05,0.11,0.14,0.08,0.12,0.15,0.06,0.10,0.13,0.07,0.14,0.09,0.04,0.12,0.10,0.15,0.06,0.13,0.08,0.11,0.14,0.05,
   0.10,0.12,0.08,0.15,0.09,0.06,0.13,0.11,0.07,0.12,0.09,0.14,0.05,0.11,0.10,0.13,0.07,0.11,0.08,0.14,0.05,0.12,0.09,0.07,0.10],
  [0.08,0.13,0.05,0.11,0.15,0.09,0.10,0.04,0.14,0.07,0.12,0.09,0.15,0.06,0.11,0.08,0.13,0.05,0.12,0.09,0.14,0.06,0.10,0.13,0.08,
   0.05,0.11,0.09,0.14,0.06,0.10,0.12,0.05,0.08,0.11,0.04,0.07,0.10,0.06,0.08,0.04,0.07,
   0.04,0.08,0.03,0.06,0.09,0.05,0.07,0.03,0.06,0.08,
   0.08,0.12,0.05,0.10,0.14,0.07,0.11,0.09,0.15,0.05,0.10,0.13,0.07,0.09,0.12,0.06,0.09,0.08,
   0.04,0.07,0.03,0.06,0.08,0.05,0.07,0.03,0.06,0.09,0.04,0.07,0.05,0.06,0.08,
   0.09,0.14,0.06,0.12,0.10,0.15,0.05,0.11,0.13,0.08,0.10,
   0.06,0.10,0.04,0.09,0.12,0.06,0.10,0.08,0.11,0.05,0.09,
   0.10,0.15,0.08,0.13,0.05,0.11,0.14,0.09,0.15,0.06,0.12,0.10,
   0.09,0.14,0.06,0.12,0.15,0.10,0.05,0.13,0.11,0.15,0.08,0.10,0.14,0.04,0.12,0.09,0.15,0.07,0.12,0.10,
   0.15,0.06,0.11,0.14,0.08,0.12,0.05,0.10,0.15,0.09,0.13,0.06,0.11,0.14,0.08,0.10,0.13,0.04,0.11,0.09,
   0.06,0.11,0.04,0.09,0.13,0.06,0.10,0.08,0.12,0.05,0.09,
   0.08,0.13,0.05,0.11,0.14,0.09,0.06,0.12,0.10,0.15,0.04,0.11,0.09,0.07,0.10]
];
const ammoniaPeaks = [
  ["1994-10-22",1.36],["1994-12-10",1.64],["1994-12-10",1.55],["1994-12-12",1.70],
  ["1995-05-31",1.85],["1995-08-22",1.40],["1995-08-22",1.30],["1995-09-06",1.70],["1995-10-11",1.35],["1995-10-11",1.10],
  ["1995-11-02",2.02],["1995-11-19",1.25],["1995-11-19",1.15],
  ["1996-01-27",3.37],["1996-01-27",3.06],["1996-01-27",2.78],["1996-01-27",2.05],["1996-01-27",1.90],["1996-01-27",1.50],["1996-01-27",1.35],["1996-01-27",1.10],
  ["1996-02-18",2.57],["1996-02-29",1.81],["1996-04-10",2.61],["1996-04-10",1.09],
  ["1996-06-21",2.05],["1996-06-21",1.75],["1996-07-03",1.64],["1996-07-03",1.35],["1996-07-03",1.20],
  ["1996-10-26",1.14],["1997-01-28",1.41],["1997-02-21",1.30],["1997-03-20",1.30],["1997-05-11",1.45],["1997-05-11",1.26],
  ["1997-09-12",5.60],["1997-09-16",3.94],["1997-09-16",2.47],["1997-09-20",1.81],["1997-09-23",1.06],["1997-09-25",3.03],
  ["1997-10-27",1.55],["1997-10-29",1.29],["1997-11-18",2.30],["1997-11-29",1.29],
  ["1998-01-03",1.93],["1998-01-11",1.50],["1998-02-02",2.02],["1998-02-02",1.78],["1998-02-02",1.36],["1998-02-02",1.30],["1998-02-02",1.10],
  ["1998-03-13",1.22],["1998-03-26",2.11],["1998-04-05",3.44],["1998-04-21",3.98],["1998-04-21",3.20],["1998-04-21",1.87],
  ["1998-05-16",1.80],["1998-06-18",3.12],["1998-06-18",2.55],["1998-06-18",1.72],["1998-06-18",1.50],["1998-07-08",1.79],
  ["1998-07-31",2.08],["1998-07-31",1.90],["1998-09-21",7.28],["1998-09-21",3.03],["1998-09-21",1.12],
  ["1999-10-12",3.46],["1999-10-12",2.00],["1999-11-27",2.45],["1999-12-05",2.40],["1999-12-12",2.93],["1999-12-12",1.85],
  ["1999-12-01",1.55],["1999-12-20",1.40],["1999-12-24",1.25],
  ["2000-02-18",2.05],["2000-03-16",2.35],["2000-03-16",1.85],["2000-04-11",2.40],["2000-04-11",1.80],["2000-05-30",2.28],
  ["2000-02-25",1.50],["2000-03-05",1.40],["2000-03-25",1.30],["2000-04-20",1.20],["2000-05-10",1.10],["2000-05-20",1.00],
  ["2000-08-17",1.40],["2000-08-21",1.30],["2000-08-25",1.20],["2000-08-19",1.00],
  ["2001-02-10",2.17],["2001-02-20",2.44],["2001-02-10",0.99],
  ["2001-08-29",2.02],["2001-08-29",1.85],["2001-08-29",1.75],["2001-08-15",1.53],["2001-09-18",1.41],["2001-09-28",2.13],["2001-10-10",1.16],["2001-10-10",1.00],
  ["2002-02-22",1.79],["2002-03-26",1.84],["2002-03-26",1.60],["2002-02-15",1.30],["2002-03-05",1.20],["2002-03-15",1.10],
  ["2002-05-27",3.82],["2002-06-03",3.08],["2002-05-30",2.59],["2002-05-30",2.30],["2002-05-30",2.20],["2002-05-30",1.90],["2002-05-30",1.55],
  ["2002-05-27",1.35],["2002-06-01",1.20],["2002-06-05",1.00],
  ["2002-08-25",2.13],["2002-09-28",1.92],["2002-08-28",1.40],
  ["2002-11-08",2.05],["2002-11-19",1.77],["2002-12-24",1.77],["2002-12-24",1.60],["2002-12-30",2.40],["2002-11-25",1.40],["2002-12-05",1.20],["2002-12-12",1.00],
  ["2003-02-14",1.35],["2003-02-20",1.00],
  ["2003-08-11",1.14],["2003-08-18",1.81],["2003-10-05",1.52],["2003-10-05",1.22]
];

// axis: 500-day major unit starting 19-Aug-93
const axisStart = "1993-08-19";
const axisDays = 3738;
const majorUnit = 500;

// ---- helpers ----
const parse = d3.timeParse("%Y-%m-%d");
const origin = parse(axisStart);
const xEnd = d3.timeDay.offset(origin, axisDays);
const tickDates = d3.range(0, axisDays, majorUnit).map(d => d3.timeDay.offset(origin, d));
const fmt = d3.timeFormat("%-d-%b-%y");

function expand(starts, runs, step) {
  const pts = [];
  starts.forEach((s, k) => {
    const t0 = parse(s);
    runs[k].forEach((v, i) => pts.push({ date: d3.timeDay.offset(t0, i * step), value: v }));
  });
  return pts;
}
const single = list => list.map(([d, v]) => ({ date: parse(d), value: v }));

const svg = d3.select("#chart");
svg.append("rect").attr("width", 1146).attr("height", 1556).attr("fill", "#fff");

const FONT = "'Liberation Sans', Arial, sans-serif";
const TITLE_FONT = "'DejaVu Sans', Verdana, sans-serif";

const charts = [
  {
    title: "Effluent CBOD Concentration", titleAt: [631, 47], titleLen: 374, titleSize: 17, titleFont: TITLE_FONT,
    ylabel: "CBOD (mg/L)", ylabelAt: [47, 260], ylabelLen: 140,
    dateAt: [594, 493],
    panel: [7, 7, 1170, 524], panelStroke: "#000", panelW: 2.6,
    box: [126, 91, 1064, 431], yMax: 18, yStep: 2,
    fontSize: 17, weight: "normal", xPad: 15, yPad: 9, gridW: 1.7,
    pts: expand(cbodStarts, cbodRuns, cbodStep)
      .concat(expand(cbodStartsB, cbodRunsB, cbodStep))
      .concat(single(cbodOutliers)),
    size: 4
  },
  {
    title: "Effluent TSS Concentration", titleAt: [630, 575], titleLen: 349, titleSize: 17, titleFont: TITLE_FONT,
    ylabel: "TSS (mg/L)", ylabelAt: [47, 776], ylabelLen: 97,
    dateAt: [594, 992],
    panel: [7, 537, 1170, 488], panelStroke: "#000", panelW: 2.6,
    box: [126.7, 616, 1065.5, 936.7], yMax: 80, yStep: 10, yMinor: 1,
    fontSize: 17, weight: "normal", xPad: 13, yPad: 9, gridW: 1.4,
    pts: expand(tssStarts, tssRuns, tssStep)
      .concat(expand(tssStartsB, tssRunsB, tssStep))
      .concat(single(tssOutliers)),
    size: 4
  },
  {
    title: "Effluent Ammonia Concentration", titleAt: [633, 1069], titleLen: 431, titleSize: 22, titleFont: FONT,
    ylabel: "Ammonia (mg/L)", ylabelAt: [38, 1291], ylabelLen: 173,
    dateAt: [597, 1532],
    panel: [7, 1037, 1170, 560], panelStroke: "#222", panelW: 1.6,
    box: [119, 1116, 1078, 1466.7], yMax: 8, yStep: 1, xMinor: 20,
    fontSize: 18, weight: "bold", xPad: 18, yPad: 7, gridW: 1.3,
    pts: expand(ammoniaStarts, ammoniaRuns, ammoniaStep)
      .concat(expand(ammoniaBaseStarts, ammoniaBaseRuns, ammoniaBaseStep))
      .concat(single(ammoniaPeaks)),
    size: 4
  }
];

charts.forEach(drawChart);

function drawChart(c) {
  const [bx0, by0, bx1, by1] = c.box;
  const g = svg.append("g");

  g.append("rect")
    .attr("x", c.panel[0]).attr("y", c.panel[1])
    .attr("width", c.panel[2]).attr("height", c.panel[3])
    .attr("fill", "none").attr("stroke", c.panelStroke).attr("stroke-width", c.panelW);

  const x = d3.scaleTime().domain([origin, xEnd]).range([bx0, bx1]);
  const y = d3.scaleLinear().domain([0, c.yMax]).range([by1, by0]);
  const yTicks = d3.range(0, c.yMax + c.yStep / 2, c.yStep);

  // gridlines
  g.append("g")
    .attr("transform", `translate(${bx0},0)`)
    .call(d3.axisLeft(y).tickValues(yTicks.slice(1, -1)).tickSize(-(bx1 - bx0)).tickFormat(""))
    .call(a => a.select(".domain").remove())
    .selectAll("line").attr("stroke", "#000").attr("stroke-width", c.gridW);

  // plot area border (top and right)
  g.append("path")
    .attr("d", `M${bx0},${by0}H${bx1}V${by1}`)
    .attr("fill", "none").attr("stroke", "#8c8c8c").attr("stroke-width", 1.5);

  // minor ticks
  if (c.yMinor) {
    g.append("g")
      .attr("transform", `translate(${bx0},0)`)
      .call(d3.axisRight(y).tickValues(d3.range(0, c.yMax, c.yMinor)).tickSize(3).tickFormat(""))
      .call(a => a.select(".domain").remove())
      .selectAll("line").attr("stroke", "#000");
  }
  if (c.xMinor) {
    const minor = d3.range(0, axisDays, c.xMinor).map(d => d3.timeDay.offset(origin, d));
    g.append("g")
      .attr("transform", `translate(0,${by1})`)
      .call(d3.axisTop(x).tickValues(minor).tickSize(3).tickFormat(""))
      .call(a => a.select(".domain").remove())
      .selectAll("line").attr("stroke", "#000");
  }

  // x axis
  const xa = g.append("g")
    .attr("transform", `translate(0,${by1})`)
    .call(d3.axisBottom(x).tickValues(tickDates).tickFormat(fmt).tickSizeInner(6).tickSizeOuter(0).tickPadding(c.xPad));
  xa.select(".domain").attr("stroke-width", 2);
  xa.selectAll("line").attr("stroke-width", 1.6);
  xa.attr("font-family", FONT).attr("font-size", c.fontSize).attr("font-weight", c.weight);
  xa.selectAll("text").attr("fill", "#000").style("letter-spacing", "3px");

  // y axis
  const ya = g.append("g")
    .attr("transform", `translate(${bx0},0)`)
    .call(d3.axisLeft(y).tickValues(yTicks).tickSizeInner(6).tickSizeOuter(0).tickPadding(c.yPad));
  ya.select(".domain").attr("stroke-width", 1.6);
  ya.selectAll("line").attr("stroke-width", 1.6);
  ya.attr("font-family", FONT).attr("font-size", c.fontSize).attr("font-weight", c.weight);
  ya.selectAll("text").attr("fill", "#000").style("letter-spacing", "3px");

  // points
  g.append("g").attr("shape-rendering", "crispEdges")
    .selectAll("rect")
    .data(c.pts)
    .join("rect")
    .attr("x", d => x(d.date) - c.size / 2)
    .attr("y", d => y(d.value) - c.size / 2)
    .attr("width", c.size).attr("height", c.size)
    .attr("fill", "#000080");

  // title
  g.append("text")
    .attr("x", c.titleAt[0]).attr("y", c.titleAt[1]).attr("dy", "0.36em")
    .attr("text-anchor", "middle")
    .attr("font-family", c.titleFont).attr("font-size", c.titleSize).attr("font-weight", "bold")
    .attr("textLength", c.titleLen).attr("lengthAdjust", "spacing")
    .text(c.title);

  // y label
  g.append("text")
    .attr("transform", `translate(${c.ylabelAt[0]},${c.ylabelAt[1]}) rotate(-90)`)
    .attr("dy", "0.36em")
    .attr("text-anchor", "middle")
    .attr("font-family", FONT).attr("font-size", c.fontSize).attr("font-weight", c.weight)
    .attr("textLength", c.ylabelLen).attr("lengthAdjust", "spacing")
    .text(c.ylabel);

  // x label
  g.append("text")
    .attr("x", c.dateAt[0]).attr("y", c.dateAt[1]).attr("dy", "0.36em")
    .attr("text-anchor", "middle")
    .attr("font-family", FONT).attr("font-size", c.fontSize).attr("font-weight", c.weight)
    .style("letter-spacing", "3px")
    .text("Date");
}
</script>
</body>
</html>
